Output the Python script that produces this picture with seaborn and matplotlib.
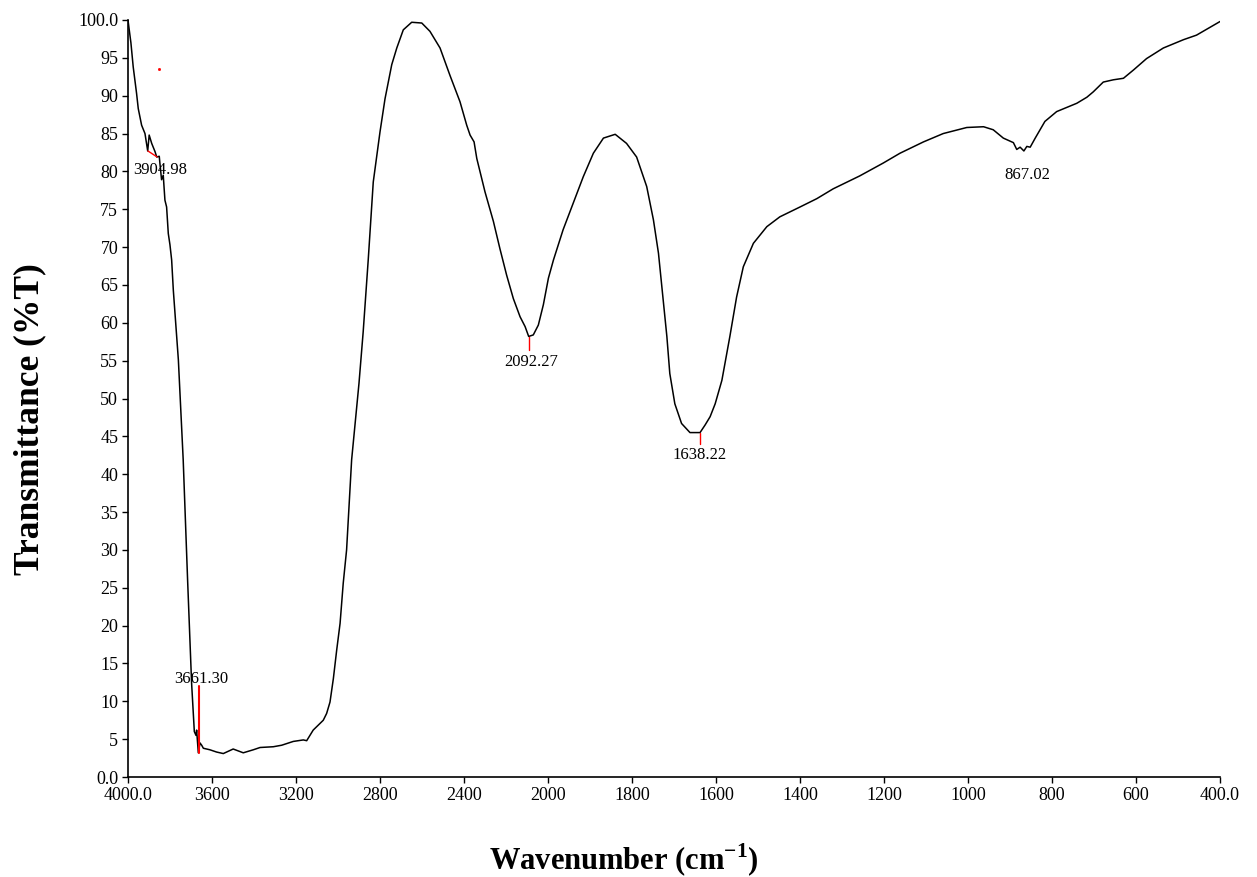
import matplotlib
matplotlib.use("Agg")
import matplotlib.pyplot as plt
import numpy as np
import pandas as pd
import seaborn as sns

# spectrum (wavenumber in cm-1, transmittance in %T)
wavenumber = [4000, 3986, 3975, 3959, 3951, 3935, 3919, 3906, 3899, 3887, 3871, 3863,
              3851, 3848, 3840, 3832, 3824, 3816, 3808, 3800, 3792, 3784, 3760, 3737,
              3716, 3697, 3684, 3676, 3673, 3665, 3657, 3649, 3641, 3610, 3578, 3546,
              3499, 3451, 3403, 3371, 3308, 3268, 3213, 3165, 3149, 3118, 3070, 3054,
              3038, 3022, 3006, 2990, 2975, 2959, 2935, 2900, 2880, 2856, 2832, 2800,
              2776, 2744, 2720, 2689, 2649, 2601, 2562, 2514, 2467, 2419, 2387, 2371,
              2352, 2339, 2300, 2260, 2229, 2197, 2165, 2133, 2109, 2092, 2070, 2046,
              2022, 1999, 1987, 1964, 1940, 1916, 1892, 1868, 1840, 1813, 1789, 1765,
              1749, 1737, 1725, 1717, 1710, 1698, 1682, 1662, 1638, 1626, 1614, 1602,
              1586, 1567, 1551, 1535, 1511, 1479, 1448, 1400, 1360, 1321, 1258, 1202,
              1162, 1106, 1059, 1003, 963, 940, 916, 892, 884, 876, 867, 860,
              852, 840, 817, 789, 741, 717, 702, 678, 654, 630, 606, 575,
              535, 487, 456, 400]
transmittance = [100.0, 97.0, 93.8, 90.3, 88.3, 86.1, 85.0, 82.7, 84.8, 83.7, 82.6, 81.9,
                 82.0, 81.1, 78.9, 79.5, 76.2, 75.3, 71.8, 70.3, 68.3, 64.3, 55.1, 41.9,
                 26.0, 12.4, 6.0, 5.5, 6.2, 3.2, 4.5, 4.2, 3.8, 3.6, 3.3, 3.1,
                 3.7, 3.2, 3.6, 3.9, 4.0, 4.2, 4.7, 4.9, 4.8, 6.2, 7.5, 8.4,
                 9.9, 13.0, 16.8, 20.3, 25.6, 30.0, 41.9, 52.0, 58.8, 68.3, 78.6, 85.2,
                 89.6, 94.1, 96.3, 98.7, 99.7, 99.6, 98.5, 96.3, 92.7, 89.2, 86.1, 84.8,
                 83.9, 81.7, 77.3, 73.4, 69.8, 66.3, 63.2, 60.8, 59.5, 58.2, 58.4, 59.7,
                 62.4, 65.9, 68.3, 72.3, 75.8, 79.3, 82.4, 84.4, 84.9, 83.7, 81.9, 78.0,
                 73.6, 69.2, 62.6, 58.2, 53.3, 49.3, 46.7, 45.5, 45.5, 46.5, 47.6, 49.3,
                 52.4, 58.2, 63.4, 67.4, 70.5, 72.7, 74.0, 75.3, 76.4, 77.7, 79.4, 81.1,
                 82.4, 83.9, 85.0, 85.8, 85.9, 85.5, 84.4, 83.8, 82.9, 83.2, 82.7, 83.3,
                 83.2, 84.4, 86.6, 87.9, 89.0, 89.8, 90.5, 91.8, 92.1, 92.3, 93.4, 94.9,
                 96.3, 97.4, 98.0, 99.8]

# picked peaks: position, transmittance at the peak
peak_labels = ["3904.98", "3661.30", "2092.27", "1638.22", "867.02"]
peak_wn = [3904.98, 3661.30, 2092.27, 1638.22, 867.02]
peak_t = [82.7, 3.2, 58.1, 45.5, 82.7]

xticks = [4000, 3600, 3200, 2800, 2400, 2000, 1800, 1600, 1400, 1200, 1000, 800, 600, 400]
xticklabels = ["4000.0", "3600", "3200", "2800", "2400", "2000", "1800", "1600",
               "1400", "1200", "1000", "800", "600", "400.0"]
yticks = list(range(0, 101, 5))
yticklabels = ["0.0"] + [str(v) for v in yticks[1:-1]] + ["100.0"]

df = pd.DataFrame({"wn": wavenumber, "T": transmittance})

sns.set_style("ticks")
plt.rcParams["font.family"] = ["Liberation Serif", "DejaVu Serif"]
plt.rcParams["mathtext.fontset"] = "custom"
plt.rcParams["mathtext.rm"] = "Liberation Serif"
plt.rcParams["mathtext.bf"] = "Liberation Serif:bold"
plt.rcParams["text.color"] = "black"
plt.rcParams["axes.labelcolor"] = "black"


# FTIR style axis: 4000-2000 compressed by half
def fwd(w):
    w = np.asarray(w, dtype=float)
    return np.where(w > 2000, 2000 + (w - 2000) / 2, w)


def inv(u):
    u = np.asarray(u, dtype=float)
    return np.where(u > 2000, 2000 + (u - 2000) * 2, u)


fig = plt.figure(figsize=(12.57, 8.77), dpi=100)
ax = fig.add_axes([0.1018, 0.114, 0.8688, 0.8632])

sns.lineplot(data=df, x="wn", y="T", ax=ax, color="black", linewidth=1.1,
             estimator=None, sort=False)

ax.set_xscale("function", functions=(fwd, inv))
ax.set_xlim(4000, 400)
ax.set_ylim(0, 100)
ax.set_xticks(xticks)
ax.set_xticklabels(xticklabels)
ax.set_yticks(yticks)
ax.set_yticklabels(yticklabels)
ax.minorticks_off()
ax.tick_params(axis="both", direction="out", length=4, width=1, pad=3,
               labelsize=13, colors="black")
for s in ["top", "right"]:
    ax.spines[s].set_visible(False)
for s in ["left", "bottom"]:
    ax.spines[s].set_color("black")
    ax.spines[s].set_linewidth(1.2)

ax.set_xlabel(r"Wavenumber (cm$^{\mathbf{-1}}$)", fontsize=22, fontweight="bold")
ax.set_ylabel("Transmittance (%T)", fontsize=25.5, fontweight="bold")
ax.xaxis.set_label_coords(0.454, -0.085)
ax.yaxis.set_label_coords(-0.075, 0.473)

# peak markers
red = "#ff0000"
ax.plot([peak_wn[0], 3861], [peak_t[0], 81.9], color=red, lw=1)
ax.text(3848, 80.2, peak_labels[0], fontsize=12, ha="center", va="center")
ax.plot([peak_wn[1], peak_wn[1]], [peak_t[1], 12.0], color=red, lw=1.5)
ax.text(3651, 12.9, peak_labels[1], fontsize=12, ha="center", va="center")
ax.plot([peak_wn[2], peak_wn[2]], [peak_t[2], 56.4], color=red, lw=1)
ax.text(peak_wn[2] - 12, 54.8, peak_labels[2], fontsize=12, ha="center", va="center")
ax.plot([peak_wn[3], peak_wn[3]], [peak_t[3], 44.0], color=red, lw=1)
ax.text(peak_wn[3], 42.5, peak_labels[3], fontsize=12, ha="center", va="center")
ax.text(peak_wn[4] - 7, 79.5, peak_labels[4], fontsize=12, ha="center", va="center")
ax.plot([3852], [93.5], marker="s", markersize=1, color=red)

fig.savefig("out.png", dpi=100)
